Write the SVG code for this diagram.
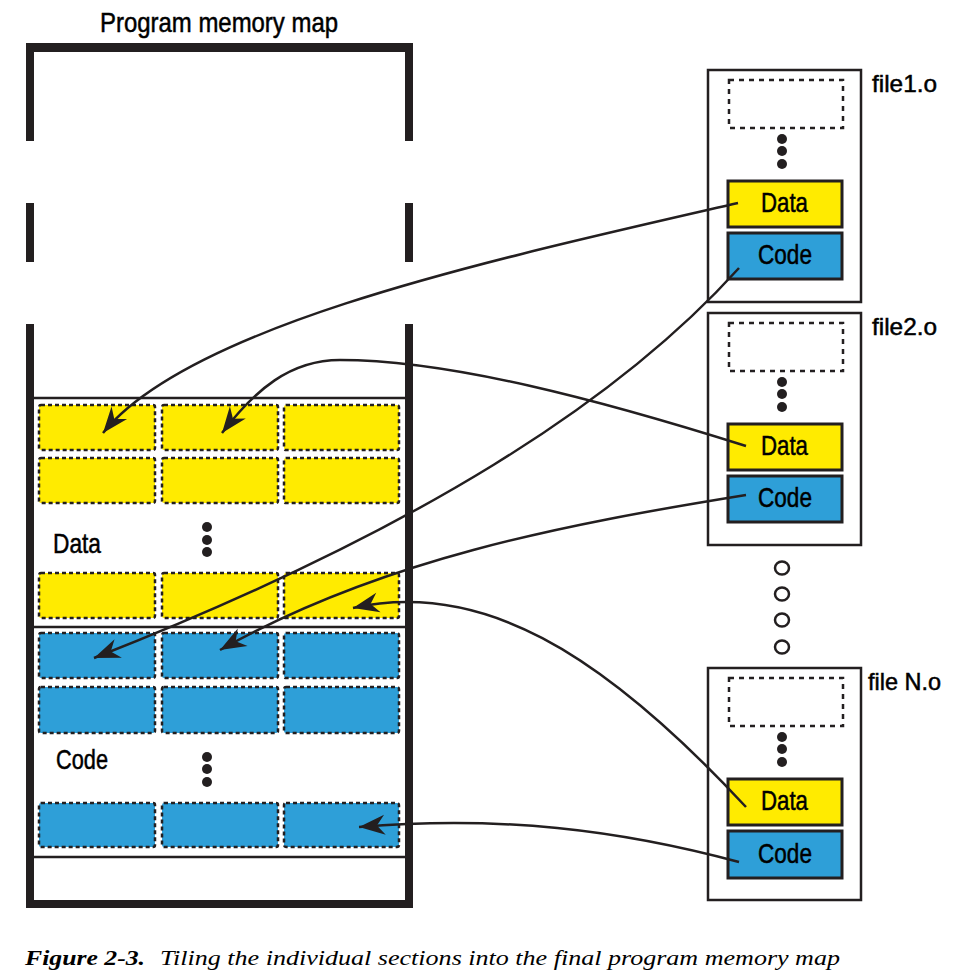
<svg xmlns="http://www.w3.org/2000/svg" width="973" height="979" viewBox="0 0 973 979">
<style>
  .wall { fill: #231f20; }
  .sep { stroke: #231f20; stroke-width: 2.5; fill: none; }
  .tileY { fill: #ffeb00; stroke: #231f20; stroke-width: 2.5; stroke-dasharray: 4 3; }
  .tileB { fill: #2e9fd8; stroke: #231f20; stroke-width: 2.5; stroke-dasharray: 4 3; }
  .fbox { fill: #ffffff; stroke: #231f20; stroke-width: 2.5; }
  .dbox { fill: none; stroke: #231f20; stroke-width: 2.5; stroke-dasharray: 5 5; }
  .secY { fill: #ffeb00; stroke: #231f20; stroke-width: 3; }
  .secB { fill: #2e9fd8; stroke: #231f20; stroke-width: 3; }
  .dot { fill: #231f20; }
  .ring { fill: none; stroke: #231f20; stroke-width: 2.5; }
  .lbl { font-family: "Liberation Sans", Arial, sans-serif; fill: #000; stroke: #000; stroke-width: 0.5; }
  .conn { fill: none; stroke: #231f20; stroke-width: 2.5; marker-end: url(#arr); }
  .cap { font-family: "Liberation Serif", "Times New Roman", serif; font-style: italic; fill: #000; font-size: 21px; }
</style>
<defs>
  <marker id="arr" markerUnits="userSpaceOnUse" viewBox="-28 -12 30 24" refX="0" refY="0" markerWidth="30" markerHeight="24" orient="auto">
    <path d="M0,0 L-26,-10 L-18,0 L-26,10 Z" fill="#231f20"/>
  </marker>
</defs>
<rect width="973" height="979" fill="#ffffff"/>

<g id="memory-map">
  <text class="lbl" x="100" y="32" font-size="28" textLength="238" lengthAdjust="spacingAndGlyphs">Program memory map</text>
  <rect class="wall" x="26" y="43" width="387" height="9"/>
  <rect class="wall" x="26" y="43" width="8" height="98"/>
  <rect class="wall" x="26" y="203" width="8" height="59"/>
  <rect class="wall" x="26" y="324" width="8" height="584"/>
  <rect class="wall" x="405" y="43" width="8" height="98"/>
  <rect class="wall" x="405" y="203" width="8" height="59"/>
  <rect class="wall" x="405" y="324" width="8" height="584"/>
  <rect class="wall" x="26" y="900" width="387" height="8"/>
  <line class="sep" x1="34" y1="398" x2="405" y2="398"/>
  <line class="sep" x1="34" y1="627" x2="405" y2="627"/>
  <line class="sep" x1="34" y1="857" x2="405" y2="857"/>

  <g id="data-tiles">
    <rect class="tileY" x="39" y="405" width="116" height="45" rx="2"/>
    <rect class="tileY" x="162" y="405" width="116" height="45" rx="2"/>
    <rect class="tileY" x="284" y="405" width="115" height="45" rx="2"/>
    <rect class="tileY" x="39" y="458" width="116" height="45" rx="2"/>
    <rect class="tileY" x="162" y="458" width="116" height="45" rx="2"/>
    <rect class="tileY" x="284" y="458" width="115" height="45" rx="2"/>
    <rect class="tileY" x="39" y="573" width="116" height="45" rx="2"/>
    <rect class="tileY" x="162" y="573" width="116" height="45" rx="2"/>
    <rect class="tileY" x="284" y="573" width="115" height="45" rx="2"/>
    <text class="lbl" x="53" y="553" font-size="28" textLength="48" lengthAdjust="spacingAndGlyphs">Data</text>
    <circle class="dot" cx="207" cy="527" r="5"/>
    <circle class="dot" cx="207" cy="540" r="5"/>
    <circle class="dot" cx="207" cy="552" r="5"/>
  </g>

  <g id="code-tiles">
    <rect class="tileB" x="39" y="633" width="116" height="45" rx="2"/>
    <rect class="tileB" x="162" y="633" width="116" height="45" rx="2"/>
    <rect class="tileB" x="284" y="633" width="115" height="45" rx="2"/>
    <rect class="tileB" x="39" y="687" width="116" height="46" rx="2"/>
    <rect class="tileB" x="162" y="687" width="116" height="46" rx="2"/>
    <rect class="tileB" x="284" y="687" width="115" height="46" rx="2"/>
    <rect class="tileB" x="39" y="803" width="116" height="44" rx="2"/>
    <rect class="tileB" x="162" y="803" width="116" height="44" rx="2"/>
    <rect class="tileB" x="284" y="803" width="115" height="44" rx="2"/>
    <text class="lbl" x="56" y="769" font-size="28" textLength="52" lengthAdjust="spacingAndGlyphs">Code</text>
    <circle class="dot" cx="207" cy="757" r="5"/>
    <circle class="dot" cx="207" cy="769" r="5"/>
    <circle class="dot" cx="207" cy="782" r="5"/>
  </g>
</g>

<g id="file1">
  <rect class="fbox" x="708" y="70" width="153" height="232"/>
  <rect class="dbox" x="729" y="80" width="114" height="48"/>
  <circle class="dot" cx="782" cy="139" r="5"/>
  <circle class="dot" cx="782" cy="151" r="5"/>
  <circle class="dot" cx="782" cy="164" r="5"/>
  <rect class="secY" x="728" y="181" width="114" height="46"/>
  <rect class="secB" x="728" y="233" width="114" height="46"/>
  <text class="lbl" x="761" y="212" font-size="27.5" textLength="47" lengthAdjust="spacingAndGlyphs">Data</text>
  <text class="lbl" x="758" y="264" font-size="27.5" textLength="54" lengthAdjust="spacingAndGlyphs">Code</text>
  <text class="lbl" x="872" y="92" font-size="24" textLength="65" lengthAdjust="spacingAndGlyphs">file1.o</text>
</g>

<g id="file2">
  <rect class="fbox" x="708" y="313" width="153" height="232"/>
  <rect class="dbox" x="729" y="323" width="114" height="48"/>
  <circle class="dot" cx="782" cy="382" r="5"/>
  <circle class="dot" cx="782" cy="394" r="5"/>
  <circle class="dot" cx="782" cy="407" r="5"/>
  <rect class="secY" x="728" y="424" width="114" height="46"/>
  <rect class="secB" x="728" y="476" width="114" height="46"/>
  <text class="lbl" x="761" y="455" font-size="27.5" textLength="47" lengthAdjust="spacingAndGlyphs">Data</text>
  <text class="lbl" x="758" y="507" font-size="27.5" textLength="54" lengthAdjust="spacingAndGlyphs">Code</text>
  <text class="lbl" x="872" y="335" font-size="24" textLength="65" lengthAdjust="spacingAndGlyphs">file2.o</text>
</g>

<g id="ellipsis">
  <ellipse class="ring" cx="782" cy="568" rx="7" ry="6.5"/>
  <ellipse class="ring" cx="782" cy="594" rx="7" ry="6.5"/>
  <ellipse class="ring" cx="782" cy="620" rx="7" ry="6.5"/>
  <ellipse class="ring" cx="782" cy="647" rx="7" ry="6.5"/>
</g>

<g id="fileN">
  <rect class="fbox" x="708" y="668" width="153" height="232"/>
  <rect class="dbox" x="729" y="678" width="114" height="48"/>
  <circle class="dot" cx="782" cy="737" r="5"/>
  <circle class="dot" cx="782" cy="749" r="5"/>
  <circle class="dot" cx="782" cy="762" r="5"/>
  <rect class="secY" x="728" y="779" width="114" height="46"/>
  <rect class="secB" x="728" y="831" width="114" height="47"/>
  <text class="lbl" x="761" y="810" font-size="27.5" textLength="47" lengthAdjust="spacingAndGlyphs">Data</text>
  <text class="lbl" x="758" y="863" font-size="27.5" textLength="54" lengthAdjust="spacingAndGlyphs">Code</text>
  <text class="lbl" x="868" y="690" font-size="24" textLength="73" lengthAdjust="spacingAndGlyphs">file N.o</text>
</g>

<g id="connectors">
  <path class="conn" d="M738,203 C 490,260 190,325 103,433"/>
  <path class="conn" d="M746,446 C 600,400 450,360 340,360 C 290,360 255,390 222,433"/>
  <path class="conn" d="M739,268 C 620,400 420,530 94,658"/>
  <path class="conn" d="M746,495 C 560,525 380,560 220,650"/>
  <path class="conn" d="M746,807 C 600,650 480,580 353,608"/>
  <path class="conn" d="M739,862 C 620,830 500,815 359,827"/>
</g>

<g id="caption">
  <text class="cap" x="25" y="965" font-weight="bold" textLength="120" lengthAdjust="spacingAndGlyphs">Figure 2-3.</text>
  <text class="cap" x="160" y="965" textLength="680" lengthAdjust="spacingAndGlyphs">Tiling the individual sections into the final program memory map</text>
</g>
</svg>
